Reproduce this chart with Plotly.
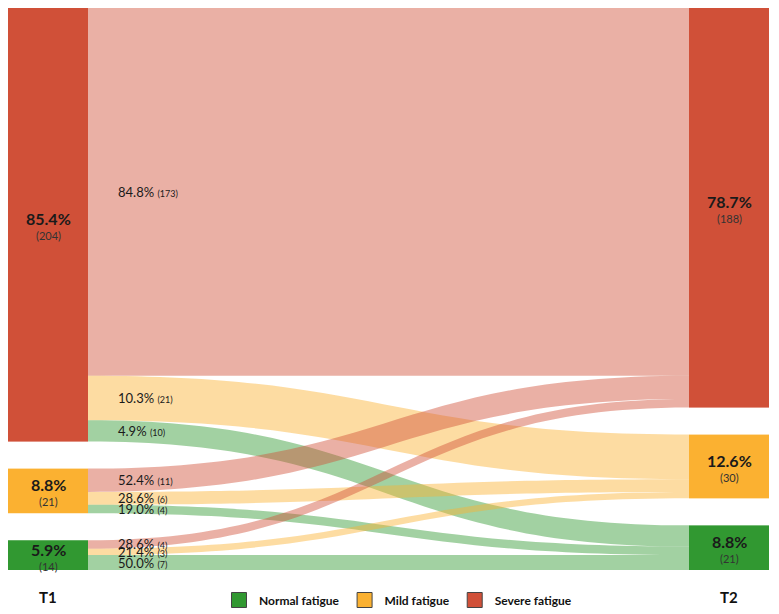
import plotly.graph_objects as go

# Data
levels = ['Severe fatigue', 'Mild fatigue', 'Normal fatigue']
t1_counts = [204, 21, 14]
t1_pct = [85.4, 8.8, 5.9]
t2_counts = [188, 30, 21]
t2_pct = [78.7, 12.6, 8.8]
# rows = level at T1, columns = level at T2 (severe, mild, normal)
flow_counts = [[173, 21, 10],
               [11, 6, 4],
               [4, 3, 7]]
flow_pct = [[84.8, 10.3, 4.9],
            [52.4, 28.6, 19.0],
            [28.6, 21.4, 50.0]]

node_colors = ['#d05038', '#fbb131', '#319831']
link_colors = ['rgba(208,80,56,0.45)', 'rgba(251,177,49,0.45)', 'rgba(49,152,49,0.45)']

FONT = 'Lato'
W, H = 779, 614
# the page body adds 8px on the left/top, margins account for it
margin = dict(l=0, r=18, t=0, b=52)
plot_w = W - margin['l'] - margin['r']
plot_h = H - margin['t'] - margin['b']
thickness = 80
pad = 27

total = sum(t1_counts)
ky = (plot_h - pad * (len(t1_counts) - 1)) / total


def centers(counts):
    out, top = [], 0
    for c in counts:
        out.append(top + c * ky / 2)
        top += c * ky + pad
    return out


c1 = centers(t1_counts)
c2 = centers(t2_counts)
x_left = thickness / 2 / plot_w
x_right = 1 - x_left

sources, targets, values, lcolors = [], [], [], []
for i in range(3):
    for j in range(3):
        sources.append(i)
        targets.append(3 + j)
        values.append(flow_counts[i][j])
        lcolors.append(link_colors[j])

fig = go.Figure()

fig.add_trace(go.Sankey(
    arrangement='fixed',
    node=dict(
        pad=pad,
        thickness=thickness,
        label=[''] * 6,
        color=node_colors + node_colors,
        line=dict(width=0),
        x=[x_left] * 3 + [x_right] * 3,
        y=[c / plot_h for c in c1] + [c / plot_h for c in c2],
        hoverinfo='none',
    ),
    link=dict(source=sources, target=targets, value=values, color=lcolors,
              hoverinfo='none'),
))

# legend entries (dummy traces)
for name, col in zip(['Normal fatigue', 'Mild fatigue', 'Severe fatigue'],
                     [node_colors[2], node_colors[1], node_colors[0]]):
    fig.add_trace(go.Scatter(
        x=[None], y=[None], mode='markers', name=name,
        marker=dict(symbol='square', size=15, color=col, line=dict(color='#444', width=1)),
    ))

annotations = []
# node labels: bold percentage with the count underneath
for xs, cs, pcts, counts in [(x_left, c1, t1_pct, t1_counts), (x_right, c2, t2_pct, t2_counts)]:
    for c, p, n in zip(cs, pcts, counts):
        annotations.append(dict(
            x=xs, y=1 - (c - 6) / plot_h, xref='paper', yref='paper',
            text=f"<b>{p:.1f}%</b>", showarrow=False,
            xanchor='center', yanchor='middle',
            font=dict(family=FONT, size=16, color='#1a1a1a'),
        ))
        annotations.append(dict(
            x=xs, y=1 - (c + 11) / plot_h, xref='paper', yref='paper',
            text=f"({n})", showarrow=False,
            xanchor='center', yanchor='middle',
            font=dict(family=FONT, size=11, color='#333'),
        ))

# link labels at the source side
label_x = (thickness + 28) / plot_w
for i in range(3):
    top = c1[i] - t1_counts[i] * ky / 2
    for j in range(3):
        h = flow_counts[i][j] * ky
        mid = top + h / 2
        top += h
        annotations.append(dict(
            x=label_x, y=1 - mid / plot_h, xref='paper', yref='paper',
            text=f"{flow_pct[i][j]:.1f}% <span style='font-size:9px'>({flow_counts[i][j]})</span>",
            showarrow=False, xanchor='left', yanchor='middle',
            font=dict(family=FONT, size=13, color='#1a1a1a'),
        ))

# time point labels
for xs, t in [(x_left, 'T1'), (x_right, 'T2')]:
    annotations.append(dict(
        x=xs, y=-0.048, xref='paper', yref='paper', text=f'<b>{t}</b>',
        showarrow=False, xanchor='center', yanchor='middle',
        font=dict(family=FONT, size=15, color='#111'),
    ))

fig.update_layout(
    width=W, height=H,
    margin=margin,
    paper_bgcolor='white',
    plot_bgcolor='white',
    font=dict(family=FONT),
    xaxis=dict(visible=False),
    yaxis=dict(visible=False),
    showlegend=True,
    legend=dict(orientation='h', x=390 / plot_w, xanchor='center', yref='container',
                y=1 - 592 / H, yanchor='middle',
                font=dict(family=FONT, size=12, color='#111', weight='bold'),
                itemwidth=30, bgcolor='rgba(0,0,0,0)'),
    annotations=annotations,
)

fig.write_html('out.html')
